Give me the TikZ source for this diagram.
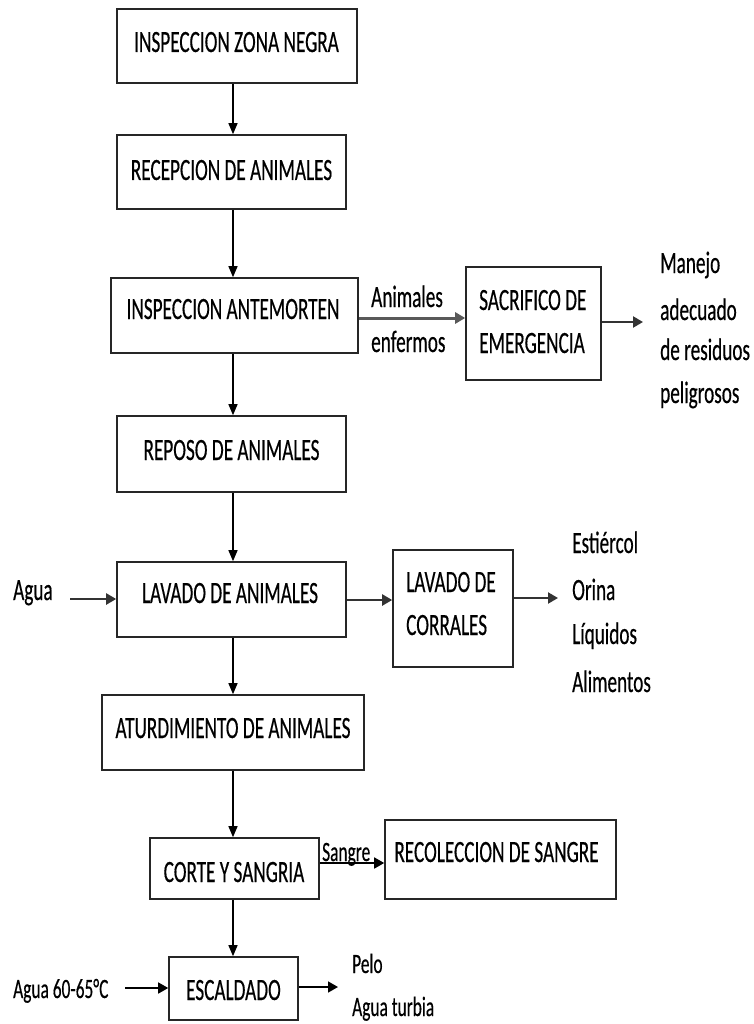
\documentclass[tikz,border=0pt]{standalone}
\usepackage{fontspec}
\setmainfont[FakeStretch=0.62,FakeBold=0.4]{Carlito}
\usetikzlibrary{arrows.meta}
\begin{document}
\begin{tikzpicture}[x=1pt,y=-1pt,
  pbox/.style={draw=black!85, line width=1.6pt, inner sep=0pt, minimum width=#1},
  txt/.style={inner sep=0pt, anchor=base, font=\fontsize{31}{37}\selectfont},
  ltxt/.style={inner sep=0pt, anchor=base west, font=\fontsize{31}{37}\selectfont},
  stxt/.style={inner sep=0pt, anchor=base west, font=\fontsize{28}{33}\selectfont},
  varr/.style={draw=black, line width=1.2pt, -{Triangle[length=11pt,width=9pt]}},
  harr/.style={draw=black!80, line width=2.2pt, -{Triangle[length=10pt,width=11pt]}}]
\useasboundingbox (0,0) rectangle (753,1024);
\fill[white] (0,0) rectangle (753,1024);
\coordinate (spine) at (233,0);
% boxes
\node[pbox=240pt, minimum height=74pt] (b1) at (237,46) {};
\node[pbox=229pt, minimum height=74pt] (b2) at (231.5,172) {};
\node[pbox=247pt, minimum height=75pt] (b3) at (234.5,315.5) {};
\node[pbox=229pt, minimum height=76pt] (b4) at (231.5,454) {};
\node[pbox=229pt, minimum height=75pt] (b5) at (231.5,599.5) {};
\node[pbox=262pt, minimum height=75pt] (b6) at (233,732.5) {};
\node[pbox=169pt, minimum height=61pt] (b7) at (234.5,868.5) {};
\node[pbox=129pt, minimum height=63pt] (b8) at (233.5,988.5) {};
\node[pbox=135pt, minimum height=113pt] (sac) at (533.5,323.5) {};
\node[pbox=120pt, minimum height=117pt] (corr) at (453,608.5) {};
\node[pbox=231pt, minimum height=79pt] (rec) at (500.5,859.5) {};
% box texts
\node[txt] (t1) at (236.5,52) {INSPECCION ZONA NEGRA};
\node[txt] (t2) at (231.5,180) {RECEPCION DE ANIMALES};
\node[txt] (t3) at (233,319) {INSPECCION ANTEMORTEN};
\node[txt] (t4) at (231.5,460) {REPOSO DE ANIMALES};
\node[txt] (t5) at (230,603) {LAVADO DE ANIMALES};
\node[txt] (t6) at (233,738) {ATURDIMIENTO DE ANIMALES};
\node[txt] (t7) at (234,882) {CORTE Y SANGRIA};
\node[txt] (t8) at (233.5,1000) {ESCALDADO};
\node[ltxt] (ts1) at (479,310) {SACRIFICO DE};
\node[ltxt] (ts2) at (479,353) {EMERGENCIA};
\node[ltxt] (tc1) at (406,592) {LAVADO DE};
\node[ltxt] (tc2) at (406,635) {CORRALES};
\node[txt] (tr) at (496.5,862) {RECOLECCION DE SANGRE};
% side labels
\node[ltxt] (an) at (371,307) {Animales};
\node[ltxt] (en) at (371,352) {enfermos};
\node[ltxt] (m1) at (660,273) {Manejo};
\node[ltxt] (m2) at (660,320) {adecuado};
\node[ltxt] (m3) at (660,360) {de residuos};
\node[ltxt] (m4) at (660,403) {peligrosos};
\node[ltxt] (e1) at (572,553) {Estiércol};
\node[ltxt] (e2) at (572,600) {Orina};
\node[ltxt] (e3) at (572,644) {Líquidos};
\node[ltxt] (e4) at (572,692) {Alimentos};
\node[ltxt] (agua) at (13,600) {Agua};
\node[stxt] (agua2) at (13,998) {Agua 60-65°C};
\node[stxt] (pelo) at (352,973) {Pelo};
\node[stxt] (turb) at (352,1016) {Agua turbia};
\node[stxt] (sg) at (322,861) {Sangre};
% free-end coordinates
\coordinate (sacout) at (643,322);
\coordinate (corrout) at (558,598);
\coordinate (aguain) at (70,599);
\coordinate (agua2in) at (125,988);
\coordinate (escout) at (338,987);
% vertical connectors
\draw[varr] (b1.south -| spine) -- (b2.north -| spine);
\draw[varr] (b2.south -| spine) -- (b3.north -| spine);
\draw[varr] (b3.south -| spine) -- (b4.north -| spine);
\draw[varr] (b4.south -| spine) -- (b5.north -| spine);
\draw[varr] (b5.south -| spine) -- (b6.north -| spine);
\draw[varr] (b6.south -| spine) -- (b7.north -| spine);
\draw[varr] (b7.south -| spine) -- (b8.north -| spine);
% horizontal connectors
\draw[harr, draw=black!65, line width=3pt] (b3.east |- 0,318) -- (sac.west |- 0,318);
\draw[harr] (sac.east |- sacout) -- (sacout);
\draw[harr] (aguain) -- (b5.west |- aguain);
\draw[harr] (b5.east |- 0,600) -- (corr.west |- 0,600);
\draw[harr] (corr.east |- corrout) -- (corrout);
\draw[harr, draw=black, line width=1.6pt] (b7.east |- 0,863) -- (rec.west |- 0,863);
\draw[harr, draw=black, line width=1.6pt] (agua2in) -- (b8.west |- agua2in);
\draw[harr, draw=black, line width=1.6pt] (b8.east |- escout) -- (escout);
\end{tikzpicture}
\end{document}
